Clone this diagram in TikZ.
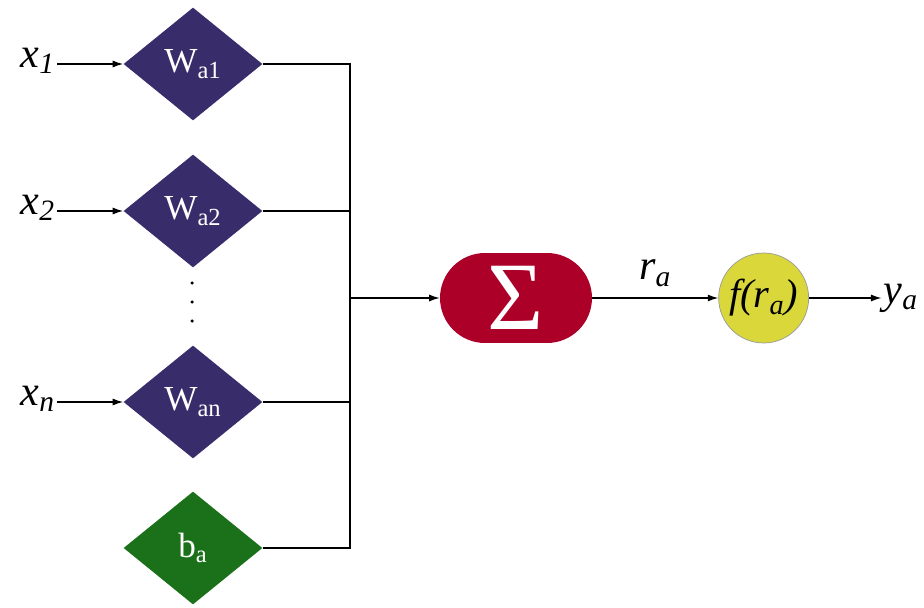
\documentclass[tikz,border=0pt]{standalone}
\usepackage{fontspec}
\setmainfont{Liberation Serif}
\usepackage{xcolor}
\usepackage{tikz}
\usetikzlibrary{shapes.geometric, arrows.meta, positioning, calc}
\definecolor{wpurple}{HTML}{392C6A}
\definecolor{bgreen}{HTML}{1B701A}
\definecolor{sumred}{HTML}{AD0029}
\definecolor{actyellow}{HTML}{DAD73A}
\tikzstyle{weight}  = [diamond, minimum width=2.78cm, minimum height=2.26cm,
                       inner sep=0pt, text centered, fill=wpurple, text=white,
                       font=\rmfamily\fontsize{20}{22}\selectfont]
\tikzstyle{bias}    = [weight, fill=bgreen]
\tikzstyle{summer}  = [rectangle, rounded corners=0.9cm, minimum width=3.04cm,
                       minimum height=1.8cm, inner sep=0pt, fill=sumred, text=white,
                       font=\rmfamily\fontsize{55}{56}\selectfont]
\tikzstyle{act}     = [circle, minimum size=1.8cm, inner sep=0pt, draw=black!40,
                       fill=actyellow, font=\rmfamily\fontsize{23}{25}\selectfont\itshape]
\tikzstyle{lbl}     = [inner sep=1pt, font=\rmfamily\fontsize{24}{26}\selectfont\itshape]
\tikzstyle{arr}     = [-{Latex[length=6pt,width=4pt]}, line width=0.7pt]
\tikzstyle{wire}    = [line width=0.7pt]

\begin{document}
\begin{tikzpicture}[x=0.02cm, y=-0.02cm]
  \useasboundingbox (0,0) rectangle (924,608);

  %% Inputs and weights
  \node[weight] (w1) at (193,64)  {W\textsubscript{a1}};
  \node[weight] (w2) at (193,211) {W\textsubscript{a2}};
  \node[weight] (wn) at (193,402) {W\textsubscript{an}};
  \node[bias]   (ba) at (193,548) {b\textsubscript{a}};

  \node[lbl, anchor=east] (x1) at (57,61)  {x\textsubscript{1}};
  \node[lbl, anchor=east] (x2) at (57,208) {x\textsubscript{2}};
  \node[lbl, anchor=east] (xn) at (57,399) {x\textsubscript{n}};

  \draw[arr] (x1.east |- w1) -- (w1.west);
  \draw[arr] (x2.east |- w2) -- (w2.west);
  \draw[arr] (xn.east |- wn) -- (wn.west);

  %% dots between W_a2 and W_an
  \foreach \y in {283,302,321}
    \fill (192,\y) circle (0.035cm);

  %% Summation and activation
  \node[summer] (sum) at (516,298) {Σ};
  \node[act, right=2.52cm of sum] (f) {f(r\textsubscript{a})};
  \node[lbl, right=1.45cm of f] (ya) {y\textsubscript{a}};

  %% Bus into the summer
  \coordinate (bus) at (350,298);
  \draw[wire] (w1.east) -| (bus);
  \draw[wire] (w2.east) -| (bus);
  \draw[wire] (wn.east) -| (bus);
  \draw[wire] (ba.east) -| (bus);
  \draw[arr] (bus) -- (sum.west);

  \draw[arr] (sum.east) -- node[lbl, above=5pt] {r\textsubscript{a}} (f.west);
  \draw[arr] (f.east) -- (ya.west);

\end{tikzpicture}
\end{document}
